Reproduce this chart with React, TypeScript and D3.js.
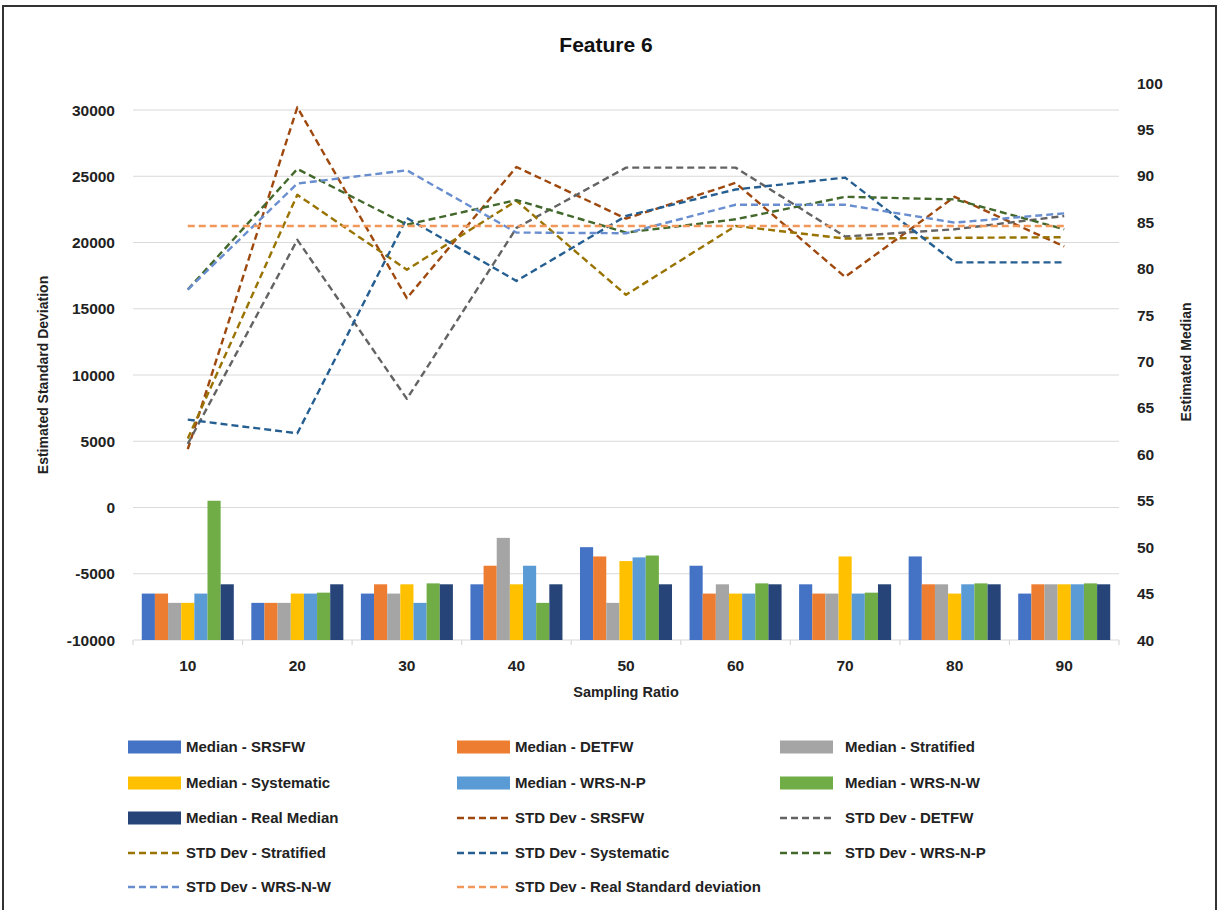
import React from "react";
import * as d3 from "d3";

const categories = [10, 20, 30, 40, 50, 60, 70, 80, 90];

const medianSRSFW = [45, 44, 45, 46, 50, 48, 46, 49, 45];
const medianDETFW = [45, 44, 46, 48, 49, 45, 45, 46, 46];
const medianStratified = [44, 44, 45, 51, 44, 46, 45, 46, 46];
const medianSystematic = [44, 45, 46, 46, 48.5, 45, 49, 45, 46];
const medianWRSNP = [45, 45, 44, 48, 48.9, 45, 45, 46, 46];
const medianWRSNW = [55, 45.1, 46.1, 44, 49.1, 46.1, 45.1, 46.1, 46.1];
const medianReal = [46, 46, 46, 46, 46, 46, 46, 46, 46];

const sdSRSFW = [4400, 30200, 15800, 25700, 21800, 24500, 17400, 23450, 19700];
const sdDETFW = [4800, 20200, 8200, 21100, 25650, 25650, 20450, 21000, 22000];
const sdStratified = [5200, 23600, 17950, 23150, 16050, 21250, 20300, 20350, 20400];
const sdSystematic = [6630, 5600, 21850, 17100, 22000, 24000, 24900, 18500, 18500];
const sdWRSNP = [16450, 25550, 21350, 23200, 20750, 21750, 23450, 23250, 21000];
const sdWRSNW = [16450, 24450, 25450, 20750, 20700, 22850, 22850, 21500, 22200];
const sdReal = [21240, 21240, 21240, 21240, 21240, 21240, 21240, 21240, 21240];

const leftTicks = [-10000, -5000, 0, 5000, 10000, 15000, 20000, 25000, 30000];
const rightTicks = [40, 45, 50, 55, 60, 65, 70, 75, 80, 85, 90, 95, 100];

const barSeries = [
  { name: "Median - SRSFW", values: medianSRSFW, color: "#4472C4" },
  { name: "Median - DETFW", values: medianDETFW, color: "#ED7D31" },
  { name: "Median - Stratified", values: medianStratified, color: "#A5A5A5" },
  { name: "Median - Systematic", values: medianSystematic, color: "#FFC000" },
  { name: "Median - WRS-N-P", values: medianWRSNP, color: "#5B9BD5" },
  { name: "Median - WRS-N-W", values: medianWRSNW, color: "#70AD47" },
  { name: "Median - Real Median", values: medianReal, color: "#264478" },
];

const lineSeries = [
  { name: "STD Dev - SRSFW", values: sdSRSFW, color: "#9E480E" },
  { name: "STD Dev - DETFW", values: sdDETFW, color: "#636363" },
  { name: "STD Dev - Stratified", values: sdStratified, color: "#997300" },
  { name: "STD Dev - Systematic", values: sdSystematic, color: "#255E91" },
  { name: "STD Dev - WRS-N-P", values: sdWRSNP, color: "#43682B" },
  { name: "STD Dev - WRS-N-W", values: sdWRSNW, color: "#698ED0" },
  { name: "STD Dev - Real Standard deviation", values: sdReal, color: "#F1975A" },
];

const FONT = "'Liberation Sans', Arial, sans-serif";

export default function App() {
  const W = 1218;
  const H = 910;
  const left = 133;
  const right = 1119;
  const bottom = 640;

  const x0 = d3.scaleBand<number>().domain(categories).range([left, right]).padding(0);
  const step = x0.bandwidth();
  const x1 = d3
    .scaleBand<number>()
    .domain(d3.range(barSeries.length))
    .range([step * 0.08, step * 0.92])
    .padding(0);
  const yL = d3.scaleLinear().domain([-10000, 30000]).range([bottom, 110]);
  const yR = d3.scaleLinear().domain([40, 100]).range([bottom, 83]);

  const cx = (c: number) => (x0(c) as number) + step / 2;

  const legendItems = [...barSeries.map((s) => ({ ...s, kind: "bar" })), ...lineSeries.map((s) => ({ ...s, kind: "line" }))];
  const colSwatchX = [128, 457, 780];
  const colTextX = [186, 515, 845];
  const rowY = [747, 783, 818, 853, 887];

  return (
    <svg width={W} height={H} style={{ position: "absolute", left: 0, top: 0, background: "#fff" }} fontFamily={FONT}>
      <rect x={0} y={0} width={W} height={H} fill="#fff" />
      <rect x={3} y={6} width={1213} height={910} fill="none" stroke="#333" strokeWidth={2} />
      <text x={606} y={52} textAnchor="middle" fontSize={21} fontWeight="bold" fill="#111">
        Feature 6
      </text>

      {leftTicks.map((t) => (
        <line key={t} x1={left} x2={right} y1={yL(t)} y2={yL(t)} stroke="#D9D9D9" strokeWidth={1.2} />
      ))}
      {categories.map((c) => (
        <line key={c} x1={x0(c) as number} x2={x0(c) as number} y1={bottom} y2={bottom + 5} stroke="#D9D9D9" strokeWidth={1.2} />
      ))}
      <line x1={right} x2={right} y1={bottom} y2={bottom + 5} stroke="#D9D9D9" strokeWidth={1.2} />

      {leftTicks.map((t) => (
        <text key={t} x={115} y={yL(t) + 5.5} textAnchor="end" fontSize={15.5} fontWeight="bold" fill="#222">
          {t}
        </text>
      ))}
      {rightTicks.map((t) => (
        <text key={t} x={1137} y={yR(t) + 5.5} textAnchor="start" fontSize={15.5} fontWeight="bold" fill="#222">
          {t}
        </text>
      ))}
      {categories.map((c) => (
        <text key={c} x={cx(c)} y={671} textAnchor="middle" fontSize={15.5} fontWeight="bold" fill="#222">
          {c}
        </text>
      ))}

      <text x={626} y={697} textAnchor="middle" fontSize={14.5} fontWeight="bold" fill="#222">
        Sampling Ratio
      </text>
      <text transform={`translate(48,375) rotate(-90)`} textAnchor="middle" fontSize={14} fontWeight="bold" fill="#222">
        Estimated Standard Deviation
      </text>
      <text transform={`translate(1191,362) rotate(-90)`} textAnchor="middle" fontSize={14} fontWeight="bold" fill="#222">
        Estimated Median
      </text>

      {barSeries.map((s, si) =>
        s.values.map((v, i) => {
          const c = categories[i];
          const bx = (x0(c) as number) + (x1(si) as number);
          return <rect key={`${si}-${i}`} x={bx} y={yR(v)} width={x1.bandwidth()} height={bottom - yR(v)} fill={s.color} />;
        })
      )}

      {lineSeries.map((s) => {
        const gen = d3
          .line<number>()
          .x((_, i) => cx(categories[i]))
          .y((v) => yL(v));
        return (
          <path
            key={s.name}
            d={gen(s.values) || ""}
            fill="none"
            stroke={s.color}
            strokeWidth={2.4}
            strokeDasharray="7,4"
            strokeLinejoin="round"
          />
        );
      })}

      {legendItems.map((it, i) => {
        const row = Math.floor(i / 3);
        const col = i % 3;
        const y = rowY[row];
        const sx = colSwatchX[col];
        return (
          <g key={it.name}>
            {it.kind === "bar" ? (
              <rect x={sx} y={y - 6.5} width={53} height={13} fill={it.color} />
            ) : (
              <line x1={sx} x2={sx + 53} y1={y} y2={y} stroke={it.color} strokeWidth={2.4} strokeDasharray="7,4" />
            )}
            <text x={colTextX[col]} y={y + 5} fontSize={15} fontWeight="bold" fill="#222">
              {it.name}
            </text>
          </g>
        );
      })}
    </svg>
  );
}
